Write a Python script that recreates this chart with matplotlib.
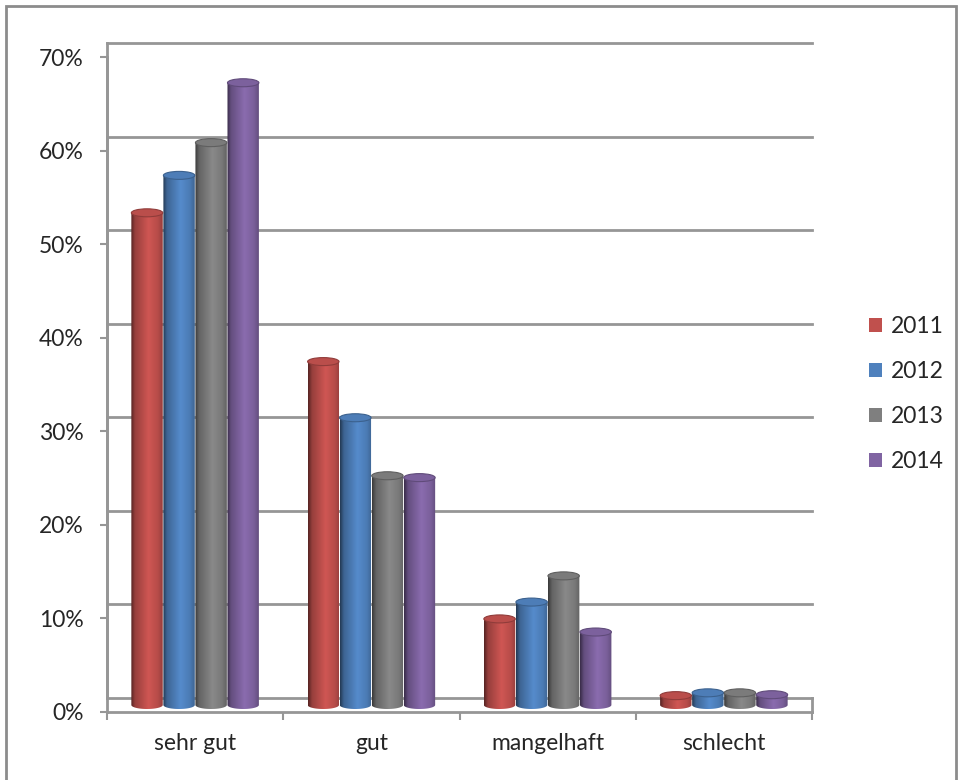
import numpy as np
import matplotlib
matplotlib.use('Agg')
import matplotlib.pyplot as plt
from matplotlib.patches import Ellipse, PathPatch, Rectangle, Patch
from matplotlib.path import Path
from matplotlib.transforms import ScaledTranslation
from matplotlib.colors import to_rgb

plt.rcParams['font.family'] = ['Lato', 'DejaVu Sans']

# Anteile je Bewertung und Jahr (in %)
categories = ['sehr gut', 'gut', 'mangelhaft', 'schlecht']
years = ['2011', '2012', '2013', '2014']
share_2011 = [52.6, 36.7, 9.2, 1.0]
share_2012 = [56.6, 30.7, 11.0, 1.3]
share_2013 = [60.1, 24.5, 13.8, 1.3]
share_2014 = [66.5, 24.3, 7.8, 1.1]
series = [share_2011, share_2012, share_2013, share_2014]
colors = ['#C0504D', '#4F81BD', '#7F7F7F', '#8064A2']
yticks = np.arange(0, 71, 10)

W, H, DPI = 961, 780, 100
GRID = '#969696'
TXT = '#262626'
FS = 16.5

fig = plt.figure(figsize=(W / DPI, H / DPI), dpi=DPI)
ax = fig.add_axes([107 / W, (H - 712) / H, 705 / W, 655 / H])
ax.set_xlim(0, 4)
ax.set_ylim(0, 70)
for s in ax.spines.values():
    s.set_visible(False)

# pseudo-3D: back wall sits 14 px higher than the front edge, bars in between
back = ax.transData + ScaledTranslation(0, 14 / DPI, fig.dpi_scale_trans)
mid = ax.transData + ScaledTranslation(0, 7 / DPI, fig.dpi_scale_trans)
depth = 14 / (655 / 70)  # depth offset expressed in y units

# back wall grid + floor
for v in yticks:
    ax.plot([0, 4], [v, v], color=GRID, lw=2, transform=back, zorder=1, clip_on=False)
ax.plot([0, 4], [0, 0], color=GRID, lw=2, zorder=1, clip_on=False)
ax.plot([0, 0], [0, 70], color=GRID, lw=2, transform=back, zorder=1, clip_on=False)
ax.plot([0, 0], [0, 70], color=GRID, lw=2, zorder=1, clip_on=False)
ax.plot([4, 4], [-depth, 0], color=GRID, lw=2, transform=back, zorder=1, clip_on=False)

# ticks and labels
ax.set_yticks(yticks)
ax.set_yticklabels([f'{v}%' for v in yticks])
ax.set_xticks(np.arange(0, 5))
ax.set_xticklabels([])
ax.set_xticks(np.arange(4) + 0.5, minor=True)
ax.set_xticklabels(categories, minor=True)
ax.tick_params(axis='y', length=5, width=1.5, color=GRID, labelsize=FS, labelcolor=TXT, pad=12)
ax.tick_params(axis='x', which='major', length=5.5, width=1.5, color=GRID)
ax.tick_params(axis='x', which='minor', length=0, labelsize=FS, labelcolor=TXT, pad=15)


def shade(c, f):
    return tuple(np.clip(np.array(c) * f, 0, 1))


def cylinder(xc, w, val, color):
    base = to_rgb(color)
    eh = 8 / (655 / 70)
    x0, x1 = xc - w / 2, xc + w / 2
    # horizontal shading across the cylinder
    t = np.linspace(0, 1, 64)
    f = np.interp(t, [0, 0.12, 0.55, 0.85, 1.0], [0.45, 0.78, 1.08, 0.95, 0.78])
    grad = np.array([shade(base, k) for k in f])[None, :, :]
    # outline: left side, bottom half-ellipse, right side
    th = np.linspace(np.pi, 2 * np.pi, 40)
    bx = xc + w / 2 * np.cos(th)
    by = eh / 2 * np.sin(th)
    verts = [(x0, val)] + list(zip(bx, by)) + [(x1, val), (x0, val)]
    codes = [Path.MOVETO] + [Path.LINETO] * (len(verts) - 2) + [Path.CLOSEPOLY]
    body = PathPatch(Path(verts, codes), facecolor='none', edgecolor='none', transform=mid)
    ax.add_patch(body)
    im = ax.imshow(grad, extent=(x0, x1, -eh, val), aspect='auto', transform=mid,
                   interpolation='bilinear', zorder=3)
    im.set_clip_path(body)
    top = Ellipse((xc, val), w, eh, facecolor=shade(base, 0.97), edgecolor=shade(base, 0.75),
                  lw=0.8, transform=mid, zorder=4)
    ax.add_patch(top)


bw = 32 / 176
for i, vals in enumerate(series):
    for j, v in enumerate(vals):
        xc = j + 0.5 + (i - 1.5) * bw
        cylinder(xc, bw * 0.98, v, colors[i])

ax.set_xlim(0, 4)
ax.set_ylim(0, 70)

handles = [Patch(facecolor=c, edgecolor='none') for c in colors]
fig.legend(handles, years, loc='center left', bbox_to_anchor=(869 / W, (H - 394) / H),
           frameon=False, fontsize=FS, handlelength=0.57, handleheight=0.57,
           handletextpad=0.4, labelspacing=1.05, borderpad=0, borderaxespad=0,
           labelcolor=TXT)

# outer frame
fig.patches.append(Rectangle((6 / W, -0.05), 950 / W, 1.05 - 6 / H, transform=fig.transFigure,
                             fill=False, edgecolor='#8c8c8c', lw=2))

fig.savefig('out.png', dpi=DPI, facecolor='white')
